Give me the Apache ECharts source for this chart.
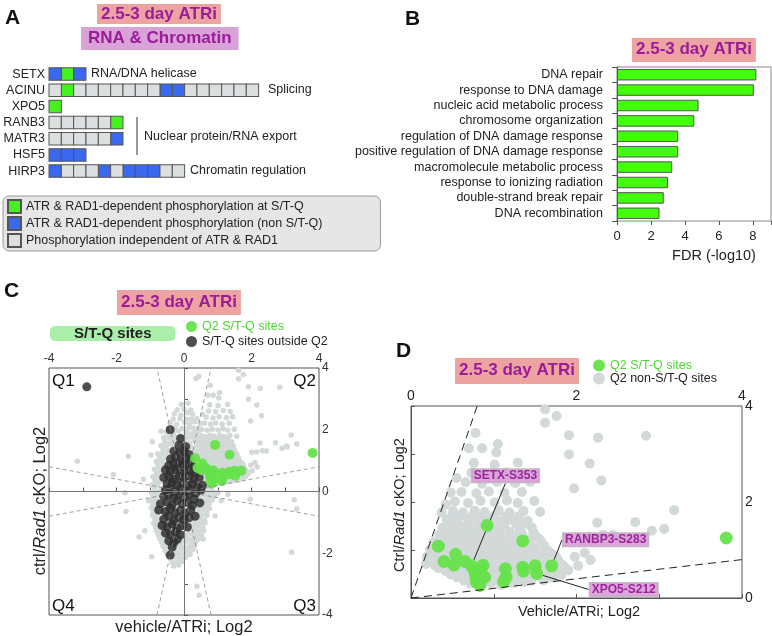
<!DOCTYPE html>
<html><head><meta charset="utf-8">
<script src="https://cdn.jsdelivr.net/npm/echarts@6/dist/echarts.min.js"></script>
<style>html,body{margin:0;padding:0;background:#fff}#c{width:772px;height:636px}</style>
</head><body><div id="c"></div>
<script>
const FONT = '"Liberation Sans", Arial, Helvetica, sans-serif';

// ---------- Panel A data ----------
const rowNames = ['SETX', 'ACINU', 'XPO5', 'RANB3', 'MATR3', 'HSF5', 'HIRP3'];
// G = ATR&RAD1 dep. at S/T-Q, B = ATR&RAD1 dep. non S/T-Q, g = independent
const rowCells = ['BGB', 'gGgggggggBBgggggg', 'G', 'gggggG', 'gggggB', 'BBB', 'BgggBgBBBgg'];
const cellLegend = [
  'ATR & RAD1-dependent phosphorylation at S/T-Q',
  'ATR & RAD1-dependent phosphorylation (non S/T-Q)',
  'Phosphorylation independent of ATR & RAD1'
];
const groupLabels = ['RNA/DNA helicase', 'Splicing', 'Nuclear protein/RNA export', 'Chromatin regulation'];

// ---------- Panel B data ----------
const goTerms = ['DNA repair', 'response to DNA damage', 'nucleic acid metabolic process',
  'chromosome organization', 'regulation of DNA damage response',
  'positive regulation of DNA damage response', 'macromolecule metabolic process',
  'response to ionizing radiation', 'double-strand break repair', 'DNA recombination'];
const fdrValues = [8.2, 8.05, 4.8, 4.55, 3.6, 3.6, 3.25, 3.0, 2.75, 2.5];

// ---------- Panel C / D data ----------
const titleText = '2.5-3 day ATRi';
const q2Stq = [
  [0.33,1.08],[0.40,0.76],[0.54,0.91],[0.52,0.69],[0.65,0.76],[0.73,0.67],[0.87,0.68],[0.92,1.51],
  [0.77,0.55],[0.84,0.56],[0.89,0.43],[0.79,0.34],[0.83,0.26],[0.78,0.46],[1.14,0.61],[1.15,0.44],
  [1.12,0.34],[1.35,1.19],[1.35,0.64],[1.36,0.56],[1.50,0.67],[1.52,0.51],[1.70,0.67],[3.81,1.25]
];
const siteLabelNames = ['SETX-S353', 'RANBP3-S283', 'XPO5-S212'];
const siteLabelIndex = [5, 22, 21];

const q2Grey = [
  [0.72,0.30],[0.86,0.28],[0.97,0.31],[1.09,0.27],[1.24,0.31],[1.37,0.33],
  [0.64,0.36],[0.78,0.37],[0.91,0.35],[1.03,0.37],[1.16,0.36],[1.30,0.38],[1.45,0.36],[1.60,0.37],
  [0.56,0.43],[0.67,0.40],[0.81,0.44],[0.94,0.41],[1.04,0.45],[1.19,0.40],[1.31,0.44],[1.44,0.41],[1.57,0.45],[1.71,0.42],
  [0.48,0.49],[0.62,0.50],[0.75,0.48],[0.88,0.50],[1.00,0.49],[1.13,0.50],[1.26,0.48],[1.38,0.50],[1.52,0.49],[1.66,0.50],[1.82,0.48],
  [0.42,0.56],[0.49,0.53],[0.61,0.57],[0.73,0.53],[0.83,0.58],[0.98,0.54],[1.07,0.57],[1.21,0.53],[1.32,0.58],[1.47,0.54],[1.61,0.56],[1.76,0.53],[1.90,0.58],
  [0.33,0.62],[0.55,0.63],[0.67,0.61],[0.79,0.63],[0.90,0.62],[1.02,0.63],[1.14,0.61],[1.27,0.62],[1.40,0.63],[1.54,0.61],[1.69,0.62],[1.86,0.63],
  [0.18,0.71],[0.29,0.68],[0.43,0.72],[0.54,0.69],[0.67,0.73],[0.79,0.70],[0.91,0.72],[1.01,0.68],[1.15,0.71],[1.27,0.69],[1.39,0.73],[1.53,0.70],[1.65,0.72],[1.83,0.69],
  [0.24,0.78],[0.37,0.79],[0.49,0.77],[0.61,0.78],[0.73,0.79],[0.85,0.77],[0.97,0.78],[1.10,0.79],[1.22,0.77],[1.35,0.78],[1.49,0.79],[1.62,0.77],[1.78,0.78],
  [0.19,0.86],[0.33,0.84],[0.45,0.88],[0.57,0.85],[0.71,0.87],[0.83,0.83],[0.94,0.88],[1.08,0.84],[1.19,0.87],[1.33,0.85],[1.46,0.89],[1.59,0.84],[1.75,0.87],
  [0.27,0.93],[0.39,0.94],[0.52,0.92],[0.64,0.93],[0.77,0.94],[0.90,0.92],[1.02,0.93],[1.15,0.94],[1.28,0.92],[1.41,0.93],[1.55,0.94],[1.70,0.92],
  [0.23,1.01],[0.36,0.99],[0.46,1.03],[0.61,0.98],[0.73,1.02],[0.84,0.99],[0.98,1.03],[1.11,0.98],[1.22,1.02],[1.37,0.99],[1.49,1.03],[1.66,0.98],
  [0.31,1.08],[0.42,1.09],[0.55,1.07],[0.67,1.08],[0.80,1.09],[0.93,1.07],[1.05,1.08],[1.18,1.09],[1.31,1.07],[1.46,1.08],[1.61,1.09],
  [0.27,1.16],[0.41,1.14],[0.53,1.18],[0.64,1.13],[0.78,1.17],[0.89,1.14],[1.03,1.18],[1.16,1.13],[1.27,1.17],[1.43,1.14],[1.57,1.18],
  [0.36,1.23],[0.48,1.24],[0.60,1.22],[0.73,1.23],[0.86,1.24],[0.99,1.22],[1.12,1.23],[1.26,1.24],[1.41,1.22],[1.55,1.23],
  [0.34,1.31],[0.46,1.28],[0.57,1.33],[0.71,1.29],[0.82,1.32],[0.96,1.28],[1.07,1.33],[1.23,1.29],[1.35,1.31],[1.51,1.28],
  [0.42,1.38],[0.53,1.39],[0.66,1.37],[0.79,1.38],[0.92,1.39],[1.05,1.37],[1.19,1.38],[1.33,1.39],[1.48,1.37],
  [0.38,1.46],[0.51,1.44],[0.63,1.48],[0.74,1.43],[0.89,1.47],[1.01,1.44],[1.13,1.48],[1.31,1.44],[1.46,1.47],
  [0.46,1.54],[0.57,1.55],[0.70,1.53],[0.84,1.54],[0.97,1.55],[1.12,1.53],[1.27,1.54],[1.38,1.55],
  [0.43,1.63],[0.54,1.60],[0.69,1.64],[0.81,1.61],[0.92,1.65],[1.08,1.60],[1.21,1.63],[1.41,1.61],
  [0.49,1.70],[0.60,1.71],[0.73,1.69],[0.86,1.70],[1.00,1.71],[1.14,1.69],[1.30,1.70],
  [0.37,1.78],[0.51,1.81],[0.63,1.78],[0.77,1.82],[0.89,1.79],[1.06,1.83],[1.19,1.78],[1.36,1.81],[1.56,1.79],
  [0.42,1.95],[0.53,2.01],[0.69,1.98],[0.84,2.02],[1.01,1.99],[1.16,2.03],[1.29,1.98],[1.49,2.02],
  [0.48,2.20],[0.61,2.21],[0.79,2.18],[0.94,2.22],[1.13,2.19],[1.34,2.21],
  [0.55,2.50],[0.66,2.41],[0.86,2.38],[1.04,2.42],[1.26,2.39],[1.44,2.42],
  [0.73,2.61],[0.94,2.58],[1.16,2.62],[1.37,2.59],
  [0.76,2.81],[1.01,2.78],[1.29,2.82],
  [0.78,3.44],[0.70,3.12],[0.86,3.12],[1.03,3.03],[1.05,3.21],[1.62,3.93],[1.76,3.79],[1.62,3.65],
  [1.91,3.39],[2.26,3.34],[2.84,3.38],[1.91,2.99],[2.16,2.80],[2.30,2.45],[1.97,2.28],[3.18,1.83],
  [3.06,1.44],[2.91,1.40],[2.71,1.58],[2.25,1.57],[2.15,1.28],[2.32,1.32],[2.01,1.27],[2.02,0.67],
  [2.17,0.79],[1.98,0.86],[2.10,0.94],[2.44,1.31]
];

const otherGrey = [
  [-0.08,2.82],[0.12,2.86],[0.44,3.73],[0.36,3.66],
  [-0.20,2.65],[0.00,2.66],[0.20,2.64],
  [-0.28,2.52],[-0.09,2.47],[0.11,2.55],[0.26,2.49],
  [-0.32,2.35],[-0.12,2.36],[0.08,2.34],[0.22,2.35],[0.38,2.36],
  [-0.41,2.22],[-0.22,2.18],[0.02,2.24],[0.16,2.19],[0.31,2.26],
  [-0.45,2.05],[-0.27,2.06],[-0.06,2.04],[0.12,2.05],[0.27,2.06],[0.42,2.04],
  [-0.52,1.92],[-0.31,1.88],[-0.16,1.95],[0.06,1.91],[0.21,1.87],[0.33,1.93],
  [-0.60,1.75],[-0.46,1.76],[-0.35,1.74],[-0.20,1.75],[-0.05,1.76],[0.10,1.74],[0.26,1.75],[0.40,1.76],[0.52,1.74],
  [-0.57,1.63],[-0.41,1.58],[-0.26,1.65],[0.01,1.61],[0.16,1.57],[0.31,1.64],
  [-0.68,1.48],[-0.52,1.49],[0.38,1.47],[0.52,1.48],
  [-0.62,1.36],[-0.47,1.33],[0.29,1.38],
  [-0.78,1.22],[-0.64,1.23],[0.40,1.21],[0.55,1.22],
  [-0.72,1.11],[-0.56,1.08],[0.44,1.12],
  [-0.82,0.97],[-0.68,0.98],[0.50,0.96],[0.65,0.97],
  [-0.77,0.86],[-0.61,0.83],[0.56,0.88],
  [-0.88,0.72],[-0.75,0.73],[0.62,0.71],[0.78,0.72],
  [-0.82,0.61],[-0.69,0.58],
  [-0.92,0.48],[-0.78,0.49],[0.78,0.47],[0.92,0.48],
  [-0.86,0.36],[-0.71,0.33],[0.69,0.37],[0.84,0.31],
  [-0.95,0.22],[-0.78,0.23],[0.72,0.21],[0.90,0.22],
  [-0.87,0.12],[-0.69,0.08],[0.66,0.11],[0.81,0.07],
  [-0.97,-0.03],[-0.80,-0.02],[0.60,-0.04],[0.72,-0.03],[0.86,-0.02],
  [-0.91,-0.16],[-0.74,-0.13],[0.46,-0.17],[0.61,-0.12],[0.77,-0.18],
  [-0.98,-0.28],[-0.84,-0.27],[0.52,-0.29],[0.68,-0.28],[0.84,-0.27],
  [-0.92,-0.41],[-0.79,-0.38],[0.61,-0.42],[0.76,-0.37],
  [-0.97,-0.53],[-0.88,-0.52],[0.44,-0.54],[0.58,-0.53],[0.72,-0.52],
  [-0.91,-0.66],[-0.83,-0.63],[0.36,-0.67],[0.51,-0.62],[0.66,-0.68],
  [-0.93,-0.78],[-0.80,-0.77],[0.40,-0.79],[0.53,-0.78],[0.68,-0.77],
  [-0.86,-0.91],[-0.74,-0.88],[0.31,-0.92],[0.46,-0.87],[0.61,-0.93],
  [-0.90,-1.03],[-0.79,-1.02],[0.32,-1.04],[0.48,-1.03],[0.62,-1.02],
  [-0.84,-1.16],[-0.73,-1.13],[0.26,-1.17],[0.41,-1.12],[0.56,-1.18],
  [-0.82,-1.28],[-0.70,-1.29],[0.15,-1.27],[0.28,-1.28],[0.44,-1.29],[0.58,-1.27],
  [-0.76,-1.41],[-0.64,-1.38],[0.06,-1.42],[0.21,-1.37],[0.36,-1.43],[0.51,-1.39],
  [-0.72,-1.53],[-0.60,-1.52],[-0.02,-1.54],[0.12,-1.53],[0.28,-1.52],[0.43,-1.54],
  [-0.66,-1.66],[-0.54,-1.63],[-0.11,-1.67],[0.04,-1.62],[0.19,-1.68],[0.34,-1.64],
  [-0.62,-1.78],[-0.45,-1.79],[-0.27,-1.77],[-0.12,-1.78],[0.02,-1.79],[0.20,-1.77],[0.30,-1.78],
  [-0.56,-1.91],[-0.39,-1.88],[-0.21,-1.93],[-0.06,-1.87],[0.11,-1.92],[0.26,-1.89],
  [-0.50,-2.03],[-0.35,-2.04],[-0.15,-2.02],[0.00,-2.03],[0.12,-2.04],
  [-0.41,-2.16],[-0.26,-2.13],[-0.11,-2.18],[0.04,-2.14],
  [-0.35,-2.28],[-0.20,-2.29],[-0.05,-2.27],
  [-0.31,-2.41],[-0.16,-2.38],
  [-0.50,1.20],[-0.35,1.45],[0.20,1.45],[0.35,1.20],[0.50,1.00],[0.60,0.80],[0.70,0.60],[0.75,0.45],
  [-0.65,0.95],[-0.75,0.70],[-0.80,0.50],[-0.82,0.20],[-0.85,-0.05],[-0.86,-0.30],[-0.85,-0.55],
  [-0.80,-0.80],[-0.78,-1.00],[-0.70,-1.25],[-0.60,-1.50],[-0.50,-1.75],[-0.30,-2.00],
  [0.55,-0.30],[0.45,-0.55],[0.40,-0.75],[0.35,-1.00],[0.30,-1.25],[0.25,-1.55],[0.15,-1.80],
  [-0.94,1.61],[-0.68,1.95],[-0.98,1.18],[-1.65,1.14],[-3.16,0.98],[-2.09,0.55],[-1.75,-0.04],
  [-1.72,-0.65],[-1.16,-1.27],[-1.33,-1.47],[-0.96,-2.11],[-1.20,0.40],[-1.05,-0.30],
  [1.96,-0.25],[3.27,-0.27],[3.34,-0.57],[3.19,-1.97],[0.38,-3.07],[0.45,-3.36],[0.92,-0.79],
  [0.57,-1.54],[0.18,-2.03],[0.90,-0.15],[1.10,-0.30],[1.30,-0.10],[0.75,-0.55],[0.55,-1.00],
  [1.00,-0.05],[3.34,1.54],[3.04,1.47]
];

const stqOutsideQ2 = [
  [-2.88,3.39],[-0.41,2.0],[-0.1,1.72],
  [-0.15,1.5],[0.05,1.45],
  [-0.3,1.3],[-0.15,1.25],[0.0,1.3],[0.15,1.2],
  [-0.4,1.05],[-0.25,1.1],[-0.1,1.0],[0.05,1.1],[0.2,1.0],
  [-0.45,0.85],[-0.3,0.9],[-0.2,0.8],[-0.05,0.9],[0.1,0.85],[0.25,0.8],
  [-0.55,0.7],[-0.4,0.65],[-0.25,0.7],[-0.1,0.6],[0.05,0.7],[0.2,0.65],[0.35,0.6],
  [-0.6,0.45],[-0.45,0.5],[-0.3,0.4],[-0.15,0.5],[0.0,0.45],[0.15,0.5],[0.3,0.4],[0.45,0.45],
  [-0.5,0.25],[-0.35,0.3],[-0.2,0.2],[-0.05,0.3],[0.1,0.2],[0.25,0.25],[0.4,0.15],[0.55,0.2],
  [-0.55,0.05],[-0.4,0.1],[-0.25,0.0],[-0.1,0.1],[0.05,0.0],[0.2,0.05],[0.35,-0.05],[0.5,0.05],
  [-0.6,-0.15],[-0.45,-0.1],[-0.3,-0.2],[-0.15,-0.1],[0.0,-0.2],[0.15,-0.1],[0.3,-0.25],
  [-0.7,-0.4],[-0.5,-0.35],[-0.35,-0.45],[-0.2,-0.3],[-0.05,-0.4],[0.1,-0.35],[0.25,-0.45],[0.47,-0.37],
  [-0.75,-0.6],[-0.55,-0.65],[-0.4,-0.55],[-0.25,-0.7],[-0.1,-0.6],[0.05,-0.7],[0.2,-0.6],
  [-0.6,-0.9],[-0.45,-0.8],[-0.3,-0.95],[-0.15,-0.85],[0.0,-0.9],[0.15,-0.85],[0.33,-0.8],
  [-0.65,-1.1],[-0.5,-1.15],[-0.35,-1.05],[-0.2,-1.2],[-0.05,-1.1],[0.1,-1.15],
  [-0.55,-1.35],[-0.4,-1.4],[-0.25,-1.3],[-0.1,-1.4],
  [-0.45,-1.6],[-0.3,-1.65],[-0.2,-1.55],
  [-0.35,-1.8],[-0.41,-2.06]
];

// guide line slopes through the origin
const cGuideSlopes = [5, -5, 0.2, -0.2];
const dGuideSlopes = [5, 0.2];

// ---------- styles ----------
const cellColors = ['#46F21E', '#3A68EE', '#DCDFE0'];
const GREEN = '#66E24A', GREEN_TXT = '#4FD636', GREY_PT = '#D3D9D8', DARK_PT = '#2F2F2F';
const PURPLE = '#9A1C98', PINK = '#EDA3A1', LAVENDER = '#D9A2D8';

// ---------- build panel A series ----------
const codeIdx = { G: 0, B: 1, g: 2 };
const aData = [[], [], []];
rowCells.forEach((s, r) => { [...s].forEach((c, i) => aData[codeIdx[c]].push([i, rowNames[r]])); });

function guideLines(slopes, lim, fromOrigin) {
  return slopes.map(m => {
    let p;
    if (Math.abs(m) >= 1) p = [lim / m, lim]; else p = [lim, lim * m];
    const q = fromOrigin ? [0, 0] : [-p[0], -p[1]];
    return [{ coord: q }, { coord: p }];
  });
}

const evenFmt = v => (Math.round(v) % 2 === 0 && Math.abs(v - Math.round(v)) < 1e-6) ? String(Math.round(v)) : '';

function titleBox(text, left, top, bg, pad) {
  return { text, left, top, backgroundColor: bg, padding: pad,
    textStyle: { fontSize: 17, fontWeight: 'bold', color: PURPLE, fontFamily: FONT } };
}
function letter(text, left, top) {
  return { text, left, top, padding: 0, textStyle: { fontSize: 21, fontWeight: 'bold', color: '#111', fontFamily: FONT } };
}

const axLine = { lineStyle: { color: '#555', width: 1 } };
const axTick = { show: true, length: 4, lineStyle: { color: '#555' } };

const labelOffsets = [[34, -90], [54, -26], [87, 16]];

const chart = echarts.init(document.getElementById('c'), null, { renderer: 'canvas' });
chart.setOption({
  animation: false,
  textStyle: { fontFamily: FONT },
  title: [
    letter('A', 5, 8), letter('B', 405, 9), letter('C', 4, 281), letter('D', 396, 341),
    titleBox(titleText, 97, 4, PINK, [2, 4, 1, 4]),
    titleBox('RNA & Chromatin', 81, 27, LAVENDER, [3, 7, 3, 7]),
    titleBox(titleText, 632, 38, PINK, [3, 4, 4, 4]),
    titleBox(titleText, 117, 290, PINK, [4, 4, 4, 4]),
    titleBox(titleText, 455, 358, PINK, [4, 4, 5, 4]),
    { text: 'S/T-Q sites', left: 50, top: 326, backgroundColor: '#A9EEA9', borderRadius: 5, padding: [0, 24, 0, 24],
      textStyle: { fontSize: 15, fontWeight: 'bold', color: '#222', lineHeight: 15, fontFamily: FONT } }
  ],
  legend: [
    { left: 3, top: 196, orient: 'vertical', data: cellLegend, itemWidth: 13, itemHeight: 13, itemGap: 2,
      backgroundColor: '#E6E6E6', borderColor: '#999', borderWidth: 1, borderRadius: 6, padding: [3, 58, 3, 4],
      selectedMode: false, textStyle: { fontSize: 12.5, color: '#222', fontFamily: FONT } },
    { left: 186, top: 320, orient: 'vertical', icon: 'circle', itemWidth: 11, itemHeight: 11, itemGap: 2, padding: 0,
      selectedMode: false, textStyle: { fontSize: 12.5, fontFamily: FONT },
      data: [{ name: 'Q2 S/T-Q sites', textStyle: { color: GREEN_TXT } }, { name: 'S/T-Q sites outside Q2', textStyle: { color: '#222' } }] },
    { left: 593, top: 359, orient: 'vertical', icon: 'circle', itemWidth: 12, itemHeight: 12, itemGap: 0, padding: 0,
      selectedMode: false, textStyle: { fontSize: 12.5, fontFamily: FONT },
      data: [{ name: 'Q2 S/T-Q sites', textStyle: { color: GREEN_TXT } }, { name: 'Q2 non-S/T-Q sites', textStyle: { color: '#222' } }] }
  ],
  grid: [
    { left: 49, top: 66, width: 17 * 12.33, height: 113.2, outerBoundsMode: 'none' },
    { left: 617, top: 67, width: 154, height: 154, show: true, borderColor: '#888', borderWidth: 1, outerBoundsMode: 'none' },
    { left: 49, top: 368, width: 270, height: 247, show: true, borderColor: '#555', borderWidth: 1, outerBoundsMode: 'none' },
    { left: 411, top: 406, width: 331, height: 192, show: true, borderColor: '#555', borderWidth: 1, outerBoundsMode: 'none' }
  ],
  xAxis: [
    { gridIndex: 0, type: 'value', min: -0.5, max: 16.5, show: false },
    { gridIndex: 1, type: 'value', min: 0, max: 9.06, interval: 2, axisLine: axLine, axisTick: axTick,
      splitLine: { show: false }, axisLabel: { fontSize: 13, color: '#222', margin: 9, formatter: evenFmt },
      name: 'FDR (-log10)', nameLocation: 'middle', nameGap: 27,
      nameTextStyle: { fontSize: 14.5, color: '#222', padding: [0, 0, 0, 40] } },
    { gridIndex: 2, type: 'value', position: 'top', min: -4, max: 4, interval: 1, axisLine: axLine, axisTick: axTick,
      splitLine: { show: false }, axisLabel: { fontSize: 12, color: '#333', margin: 3, formatter: evenFmt } },
    { gridIndex: 3, type: 'value', position: 'top', min: 0, max: 4, interval: 1, axisLine: axLine, axisTick: axTick,
      splitLine: { show: false }, axisLabel: { fontSize: 14, color: '#222', margin: 3, formatter: evenFmt } }
  ],
  yAxis: [
    { gridIndex: 0, type: 'category', data: rowNames, inverse: true, axisLine: { show: false }, axisTick: { show: false },
      axisLabel: { fontSize: 12.5, color: '#222', margin: 4, interval: 0 } },
    { gridIndex: 1, type: 'category', data: goTerms, inverse: true, axisLine: axLine,
      axisTick: { show: true, length: 5, lineStyle: { color: '#555' } },
      axisLabel: { fontSize: 12.5, color: '#222', margin: 14, interval: 0 } },
    { gridIndex: 2, type: 'value', position: 'right', min: -4, max: 4, interval: 1, axisLine: axLine, axisTick: axTick,
      splitLine: { show: false }, axisLabel: { fontSize: 12, color: '#333', margin: 3, formatter: evenFmt } },
    { gridIndex: 3, type: 'value', position: 'right', min: 0, max: 4, interval: 1, axisLine: axLine, axisTick: axTick,
      splitLine: { show: false }, axisLabel: { fontSize: 14, color: '#222', margin: 3, formatter: evenFmt } }
  ],
  series: [
    ...cellLegend.map((name, k) => ({
      name, type: 'scatter', xAxisIndex: 0, yAxisIndex: 0, data: aData[k], symbol: 'rect', symbolSize: [12.33, 12.5],
      itemStyle: { color: cellColors[k], borderColor: '#555', borderWidth: 1, opacity: 1 }
    })),
    { name: 'FDR', type: 'bar', xAxisIndex: 1, yAxisIndex: 1, data: fdrValues, barWidth: 11.5,
      itemStyle: { color: '#42FF0A', borderColor: '#555', borderWidth: 1 } },
    { name: 'all sites', type: 'scatter', xAxisIndex: 2, yAxisIndex: 2, data: otherGrey.concat(q2Grey), symbolSize: 5.5,
      itemStyle: { color: GREY_PT, opacity: 1 }, z: 1,
      markLine: { silent: true, symbol: ['none', 'none'], label: { show: false }, animation: false,
        data: [
          { xAxis: 0, lineStyle: { color: '#777', width: 1, type: 'solid' } },
          { yAxis: 0, lineStyle: { color: '#777', width: 1, type: 'solid' } },
          ...guideLines(cGuideSlopes, 4, false).map(d => { d[0].lineStyle = { color: '#888', width: 0.8, type: [4, 3] }; return d; })
        ] } },
    { name: 'S/T-Q sites outside Q2', type: 'scatter', xAxisIndex: 2, yAxisIndex: 2, data: stqOutsideQ2, symbolSize: 9,
      itemStyle: { color: DARK_PT, opacity: 0.85 }, z: 2 },
    { name: 'Q2 S/T-Q sites', type: 'scatter', xAxisIndex: 2, yAxisIndex: 2, data: q2Stq, symbolSize: 10,
      itemStyle: { color: GREEN, opacity: 0.95 }, z: 3 },
    { name: 'Q2 non-S/T-Q sites', type: 'scatter', xAxisIndex: 3, yAxisIndex: 3, data: q2Grey, symbolSize: 10,
      itemStyle: { color: GREY_PT, opacity: 1 }, z: 1,
      markLine: { silent: true, symbol: ['none', 'none'], label: { show: false }, animation: false,
        lineStyle: { color: '#222', width: 1, type: [8, 5] },
        data: guideLines(dGuideSlopes, 4, true) } },
    { name: 'Q2 S/T-Q sites', type: 'scatter', xAxisIndex: 3, yAxisIndex: 3, symbolSize: 13, z: 3,
      itemStyle: { color: GREEN, opacity: 0.95 },
      data: q2Stq.map((p, i) => {
        const k = siteLabelIndex.indexOf(i);
        return k < 0 ? p : { value: p, label: { show: true, formatter: siteLabelNames[k] } };
      }),
      label: { show: false, position: 'inside', fontSize: 12, fontWeight: 'bold', color: PURPLE, backgroundColor: LAVENDER,
        borderColor: '#bbb', borderWidth: 1, padding: [1, 2, 0, 2], fontFamily: FONT },
      labelLine: { show: true, lineStyle: { color: '#222', width: 1 } },
      labelLayout: params => {
        const k = siteLabelIndex.indexOf(params.dataIndex);
        return k < 0 ? {} : { dx: labelOffsets[k][0], dy: labelOffsets[k][1] };
      } }
  ],
  graphic: [
    { type: 'text', x: 91, y: 74, style: { text: groupLabels[0], fontSize: 12.5, fontFamily: FONT, fill: '#222', verticalAlign: 'middle' } },
    { type: 'text', x: 268, y: 90, style: { text: groupLabels[1], fontSize: 12.5, fontFamily: FONT, fill: '#222', verticalAlign: 'middle' } },
    { type: 'text', x: 144, y: 137, style: { text: groupLabels[2], fontSize: 12.5, fontFamily: FONT, fill: '#222', verticalAlign: 'middle' } },
    { type: 'text', x: 190, y: 171, style: { text: groupLabels[3], fontSize: 12.5, fontFamily: FONT, fill: '#222', verticalAlign: 'middle' } },
    { type: 'line', shape: { x1: 137, y1: 117, x2: 137, y2: 155 }, style: { stroke: '#333', lineWidth: 1 } },
    { type: 'text', x: 52, y: 381, style: { text: 'Q1', fontSize: 17, fontFamily: FONT, fill: '#111', verticalAlign: 'middle' } },
    { type: 'text', x: 316, y: 381, style: { text: 'Q2', fontSize: 17, fontFamily: FONT, fill: '#111', align: 'right', verticalAlign: 'middle' } },
    { type: 'text', x: 52, y: 606, style: { text: 'Q4', fontSize: 17, fontFamily: FONT, fill: '#111', verticalAlign: 'middle' } },
    { type: 'text', x: 316, y: 606, style: { text: 'Q3', fontSize: 17, fontFamily: FONT, fill: '#111', align: 'right', verticalAlign: 'middle' } },
    { type: 'text', x: 184, y: 627, style: { text: 'vehicle/ATRi; Log2', fontSize: 16.5, fontFamily: FONT, fill: '#222', align: 'center', verticalAlign: 'middle' } },
    { type: 'text', x: 40, y: 501, rotation: Math.PI / 2,
      style: { text: '{a|ctrl/}{b|Rad1}{a| cKO; Log2}', align: 'center', verticalAlign: 'middle',
        rich: { a: { fontSize: 16.5, fontFamily: FONT, fill: '#222', color: '#222' },
                b: { fontSize: 16.5, fontFamily: FONT, fontStyle: 'italic', fill: '#222', color: '#222' } } } },
    { type: 'text', x: 579, y: 612, style: { text: 'Vehicle/ATRi; Log2', fontSize: 14.5, fontFamily: FONT, fill: '#222', align: 'center', verticalAlign: 'middle' } },
    { type: 'text', x: 400, y: 505, rotation: Math.PI / 2,
      style: { text: '{a|Ctrl/}{b|Rad1}{a| cKO; Log2}', align: 'center', verticalAlign: 'middle',
        rich: { a: { fontSize: 14.5, fontFamily: FONT, fill: '#222', color: '#222' },
                b: { fontSize: 14.5, fontFamily: FONT, fontStyle: 'italic', fill: '#222', color: '#222' } } } }
  ]
});
</script>
</body></html>
